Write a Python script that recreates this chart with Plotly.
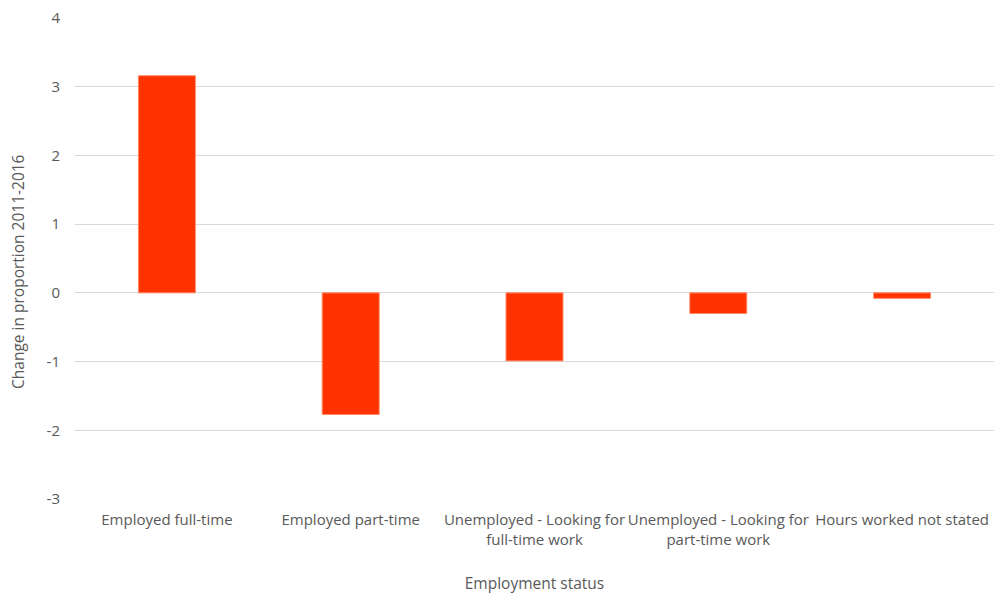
import plotly.graph_objects as go

categories = [
    "Employed full-time",
    "Employed part-time",
    "Unemployed - Looking for<br>full-time work",
    "Unemployed - Looking for<br>part-time work",
    "Hours worked not stated",
]
values = [3.16, -1.77, -0.99, -0.30, -0.08]
y_ticks = [-3, -2, -1, 0, 1, 2, 3, 4]
y_tick_text = ["-3", "-2", "-1", "0", "1", "2", "3", "4"]
y_title = "Change in proportion 2011-2016"
x_title = "Employment status"

FONT = "Open Sans, sans-serif"
GREY = "#595959"

fig = go.Figure(
    go.Bar(
        x=categories,
        y=values,
        marker=dict(color="#ff3300", line=dict(color="#ff8a66", width=1)),
    )
)

fig.update_layout(
    width=994,
    height=597,
    margin=dict(l=75, r=0, t=18, b=98),
    plot_bgcolor="white",
    paper_bgcolor="white",
    bargap=0.69,
    showlegend=False,
    font=dict(family=FONT, size=15, color=GREY),
    xaxis=dict(
        title=dict(text=x_title, font=dict(size=15.5, color=GREY), standoff=30),
        showgrid=False,
        showline=False,
        ticks="",
        ticklabelstandoff=10,
        tickfont=dict(size=15, color=GREY),
    ),
    yaxis=dict(
        range=[-3, 4],
        tickvals=y_ticks,
        ticktext=y_tick_text,
        showgrid=True,
        gridcolor="#d9d9d9",
        gridwidth=1,
        zeroline=True,
        zerolinecolor="#d9d9d9",
        zerolinewidth=1,
        showline=False,
        ticks="",
        ticklabelstandoff=14,
        tickfont=dict(size=15, color=GREY),
    ),
    annotations=[
        dict(
            text=y_title,
            xref="paper",
            yref="paper",
            x=0,
            y=0.472,
            xshift=-57,
            xanchor="center",
            yanchor="middle",
            textangle=-90,
            showarrow=False,
            font=dict(size=15.5, color=GREY),
        )
    ],
)

fig.write_html("out.html")
